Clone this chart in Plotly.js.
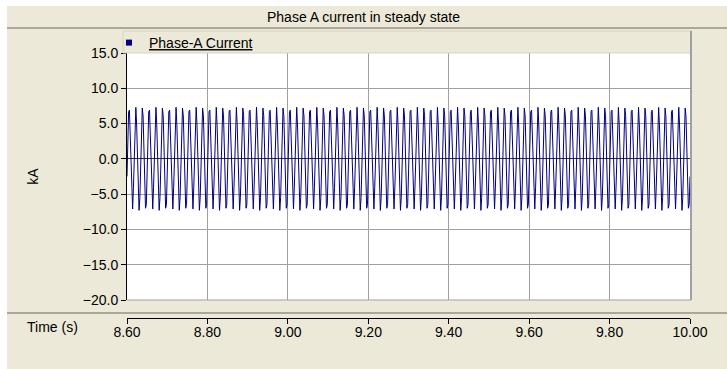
<!DOCTYPE html>
<html><head><meta charset="utf-8">
<script src="https://cdn.plot.ly/plotly-3.0.1.min.js"></script>
<style>html,body{margin:0;padding:0;background:#ECE9D8;}#chart{width:727px;height:369px;}</style>
</head><body><div id="chart"></div>
<script>
const chartTitle = 'Phase A current in steady state';
const seriesName = 'Phase-A Current';
const xAxisLabel = 'Time (s)';
const yAxisLabel = 'kA';
const xTicks = [8.6, 8.8, 9.0, 9.2, 9.4, 9.6, 9.8, 10.0];
const yTicks = [-20, -15, -10, -5, 0, 5, 10, 15];
const tStart = 8.6, tStep = 0.002;
// Phase-A current samples (kA), one every 2 ms
const currentKA = [
-2.5,2.9,6.7,6.9,3.3,-2.0,-6.3,-7.1,-4.1,1.1,5.8,7.3,4.8,-0.2,-5.1,-7.3,-5.5,-0.7,4.5,7.2,6.1,1.6,-3.7,-7.0,-6.5,
-2.5,2.9,6.7,6.9,3.3,-2.0,-6.3,-7.1,-4.1,1.1,5.8,7.3,4.8,-0.2,-5.1,-7.3,-5.5,-0.7,4.5,7.2,6.1,1.6,-3.7,-7.0,-6.5,
-2.5,2.9,6.7,6.9,3.3,-2.0,-6.3,-7.1,-4.1,1.1,5.8,7.3,4.8,-0.2,-5.1,-7.3,-5.5,-0.7,4.5,7.2,6.1,1.6,-3.7,-7.0,-6.5,
-2.5,2.9,6.7,6.9,3.3,-2.0,-6.3,-7.1,-4.1,1.1,5.8,7.3,4.8,-0.2,-5.1,-7.3,-5.5,-0.7,4.5,7.2,6.1,1.6,-3.7,-7.0,-6.5,
-2.5,2.9,6.7,6.9,3.3,-2.0,-6.3,-7.1,-4.1,1.1,5.8,7.3,4.8,-0.2,-5.1,-7.3,-5.5,-0.7,4.5,7.2,6.1,1.6,-3.7,-7.0,-6.5,
-2.5,2.9,6.7,6.9,3.3,-2.0,-6.3,-7.1,-4.1,1.1,5.8,7.3,4.8,-0.2,-5.1,-7.3,-5.5,-0.7,4.5,7.2,6.1,1.6,-3.7,-7.0,-6.5,
-2.5,2.9,6.7,6.9,3.3,-2.0,-6.3,-7.1,-4.1,1.1,5.8,7.3,4.8,-0.2,-5.1,-7.3,-5.5,-0.7,4.5,7.2,6.1,1.6,-3.7,-7.0,-6.5,
-2.5,2.9,6.7,6.9,3.3,-2.0,-6.3,-7.1,-4.1,1.1,5.8,7.3,4.8,-0.2,-5.1,-7.3,-5.5,-0.7,4.5,7.2,6.1,1.6,-3.7,-7.0,-6.5,
-2.5,2.9,6.7,6.9,3.3,-2.0,-6.3,-7.1,-4.1,1.1,5.8,7.3,4.8,-0.2,-5.1,-7.3,-5.5,-0.7,4.5,7.2,6.1,1.6,-3.7,-7.0,-6.5,
-2.5,2.9,6.7,6.9,3.3,-2.0,-6.3,-7.1,-4.1,1.1,5.8,7.3,4.8,-0.2,-5.1,-7.3,-5.5,-0.7,4.5,7.2,6.1,1.6,-3.7,-7.0,-6.5,
-2.5,2.9,6.7,6.9,3.3,-2.0,-6.3,-7.1,-4.1,1.1,5.8,7.3,4.8,-0.2,-5.1,-7.3,-5.5,-0.7,4.5,7.2,6.1,1.6,-3.7,-7.0,-6.5,
-2.5,2.9,6.7,6.9,3.3,-2.0,-6.3,-7.1,-4.1,1.1,5.8,7.3,4.8,-0.2,-5.1,-7.3,-5.5,-0.7,4.5,7.2,6.1,1.6,-3.7,-7.0,-6.5,
-2.5,2.9,6.7,6.9,3.3,-2.0,-6.3,-7.1,-4.1,1.1,5.8,7.3,4.8,-0.2,-5.1,-7.3,-5.5,-0.7,4.5,7.2,6.1,1.6,-3.7,-7.0,-6.5,
-2.5,2.9,6.7,6.9,3.3,-2.0,-6.3,-7.1,-4.1,1.1,5.8,7.3,4.8,-0.2,-5.1,-7.3,-5.5,-0.7,4.5,7.2,6.1,1.6,-3.7,-7.0,-6.5,
-2.5,2.9,6.7,6.9,3.3,-2.0,-6.3,-7.1,-4.1,1.1,5.8,7.3,4.8,-0.2,-5.1,-7.3,-5.5,-0.7,4.5,7.2,6.1,1.6,-3.7,-7.0,-6.5,
-2.5,2.9,6.7,6.9,3.3,-2.0,-6.3,-7.1,-4.1,1.1,5.8,7.3,4.8,-0.2,-5.1,-7.3,-5.5,-0.7,4.5,7.2,6.1,1.6,-3.7,-7.0,-6.5,
-2.5,2.9,6.7,6.9,3.3,-2.0,-6.3,-7.1,-4.1,1.1,5.8,7.3,4.8,-0.2,-5.1,-7.3,-5.5,-0.7,4.5,7.2,6.1,1.6,-3.7,-7.0,-6.5,
-2.5,2.9,6.7,6.9,3.3,-2.0,-6.3,-7.1,-4.1,1.1,5.8,7.3,4.8,-0.2,-5.1,-7.3,-5.5,-0.7,4.5,7.2,6.1,1.6,-3.7,-7.0,-6.5,
-2.5,2.9,6.7,6.9,3.3,-2.0,-6.3,-7.1,-4.1,1.1,5.8,7.3,4.8,-0.2,-5.1,-7.3,-5.5,-0.7,4.5,7.2,6.1,1.6,-3.7,-7.0,-6.5,
-2.5,2.9,6.7,6.9,3.3,-2.0,-6.3,-7.1,-4.1,1.1,5.8,7.3,4.8,-0.2,-5.1,-7.3,-5.5,-0.7,4.5,7.2,6.1,1.6,-3.7,-7.0,-6.5,
-2.5,2.9,6.7,6.9,3.3,-2.0,-6.3,-7.1,-4.1,1.1,5.8,7.3,4.8,-0.2,-5.1,-7.3,-5.5,-0.7,4.5,7.2,6.1,1.6,-3.7,-7.0,-6.5,
-2.5,2.9,6.7,6.9,3.3,-2.0,-6.3,-7.1,-4.1,1.1,5.8,7.3,4.8,-0.2,-5.1,-7.3,-5.5,-0.7,4.5,7.2,6.1,1.6,-3.7,-7.0,-6.5,
-2.5,2.9,6.7,6.9,3.3,-2.0,-6.3,-7.1,-4.1,1.1,5.8,7.3,4.8,-0.2,-5.1,-7.3,-5.5,-0.7,4.5,7.2,6.1,1.6,-3.7,-7.0,-6.5,
-2.5,2.9,6.7,6.9,3.3,-2.0,-6.3,-7.1,-4.1,1.1,5.8,7.3,4.8,-0.2,-5.1,-7.3,-5.5,-0.7,4.5,7.2,6.1,1.6,-3.7,-7.0,-6.5,
-2.5,2.9,6.7,6.9,3.3,-2.0,-6.3,-7.1,-4.1,1.1,5.8,7.3,4.8,-0.2,-5.1,-7.3,-5.5,-0.7,4.5,7.2,6.1,1.6,-3.7,-7.0,-6.5,
-2.5,2.9,6.7,6.9,3.3,-2.0,-6.3,-7.1,-4.1,1.1,5.8,7.3,4.8,-0.2,-5.1,-7.3,-5.5,-0.7,4.5,7.2,6.1,1.6,-3.7,-7.0,-6.5,
-2.5,2.9,6.7,6.9,3.3,-2.0,-6.3,-7.1,-4.1,1.1,5.8,7.3,4.8,-0.2,-5.1,-7.3,-5.5,-0.7,4.5,7.2,6.1,1.6,-3.7,-7.0,-6.5,
-2.5,2.9,6.7,6.9,3.3,-2.0,-6.3,-7.1,-4.1,1.1,5.8,7.3,4.8,-0.2,-5.1,-7.3,-5.5,-0.7,4.5,7.2,6.1,1.6,-3.7,-7.0,-6.5,
-2.5
];
const timeS = currentKA.map((_, i) => +(tStart + i * tStep).toFixed(4));

// geometry (pixels)
const W = 727, H = 369, L = 127, R = 690, T = 53, B = 318, PB = 300;
const X = px => (px - L) / (R - L);
const Y = py => (B - py) / (B - T);
const FONT = 'Liberation Sans, Arial, sans-serif';

const traceLine = {
  x: timeS, y: currentKA, type: 'scatter', mode: 'lines',
  line: {color: '#000080', width: 1}, showlegend: false, xaxis: 'x', yaxis: 'y'
};
const traceLegend = {
  x: [null], y: [null], type: 'scatter', mode: 'markers', xaxis: 'x2', yaxis: 'y',
  marker: {symbol: 'square', size: 6, color: '#000080'},
  name: '<span style="text-decoration:underline">' + seriesName + '</span>', showlegend: true
};

const grey = '#ACA899';
const shapes = [
  {type:'rect', xref:'paper', yref:'paper', x0:X(0), x1:X(W), y0:Y(0), y1:Y(6), fillcolor:'#FFFFFF', line:{width:0}, layer:'below'},
  {type:'rect', xref:'paper', yref:'paper', x0:X(0), x1:X(7), y0:Y(0), y1:Y(H), fillcolor:'#FFFFFF', line:{width:0}, layer:'below'},
  {type:'line', xref:'paper', yref:'paper', x0:X(7), x1:X(W), y0:Y(28), y1:Y(28), line:{color:grey, width:2}},
  {type:'line', xref:'paper', yref:'paper', x0:X(7), x1:X(W), y0:Y(313), y1:Y(313), line:{color:grey, width:2}},
  {type:'rect', xref:'paper', yref:'paper', x0:X(123), x1:X(691), y0:Y(53), y1:Y(31), line:{color:'#D8D4C4', width:1}},
  {type:'line', xref:'paper', yref:'paper', x0:X(691), x1:X(691), y0:Y(31), y1:Y(PB), line:{color:'#A0A0A0', width:2}},
  {type:'line', xref:'paper', yref:'paper', x0:X(127), x1:X(691), y0:Y(PB), y1:Y(PB), line:{color:'#A0A0A0', width:1}}
];

const layout = {
  width: W, height: H,
  margin: {l: L, r: W - R, t: T, b: H - B, pad: 0},
  paper_bgcolor: '#ECE9D8', plot_bgcolor: '#FFFFFF',
  font: {family: FONT, size: 14, color: '#000000'},
  title: {text: chartTitle, x: 0.5, xref: 'container', y: 1 - 17 / H, yref: 'container', yanchor: 'middle',
          font: {family: FONT, size: 14, color: '#000000'}},
  showlegend: true,
  legend: {x: X(109), y: Y(27), xanchor: 'left', yanchor: 'top', bgcolor: 'rgba(0,0,0,0)',
           font: {family: FONT, size: 14, color: '#000000'}, itemwidth: 30, borderwidth: 0},
  xaxis: {domain: [0, 1], range: [tStart, 10.0], anchor: 'y', tickvals: xTicks, showticklabels: false,
          ticks: '', showgrid: true, gridcolor: '#A0A0A0', gridwidth: 1, zeroline: false, showline: false,
          fixedrange: true},
  xaxis2: {overlaying: 'x', anchor: 'free', position: 0, range: [tStart, 10.0], tickvals: xTicks,
           tickformat: '.2f', ticks: 'outside', ticklen: 5, tickcolor: '#000000', tickwidth: 1,
           ticklabelstandoff: -4,
           showline: true, linecolor: '#000000', linewidth: 1, showgrid: false, zeroline: false,
           tickfont: {family: FONT, size: 14, color: '#000000'}, automargin: false},
  yaxis: {domain: [Y(PB), 1], range: [-20, 15], tickvals: yTicks, tickformat: '.1f',
          ticks: 'outside', ticklen: 5, tickcolor: '#000000', showline: true, linecolor: '#000000', linewidth: 1,
          showgrid: true, gridcolor: '#A0A0A0', gridwidth: 1,
          zeroline: true, zerolinecolor: '#303030', zerolinewidth: 1,
          tickfont: {family: FONT, size: 14, color: '#000000'},
          title: {text: yAxisLabel, standoff: 40, font: {family: FONT, size: 14, color: '#000000'}},
          automargin: false},
  annotations: [
    {text: xAxisLabel, xref: 'paper', yref: 'paper', x: X(52), y: Y(327), showarrow: false,
     xanchor: 'center', yanchor: 'middle', font: {family: FONT, size: 14, color: '#000000'}}
  ],
  shapes: shapes
};

Plotly.newPlot('chart', [traceLine, traceLegend], layout, {staticPlot: true, displayModeBar: false});
</script>
</body></html>
